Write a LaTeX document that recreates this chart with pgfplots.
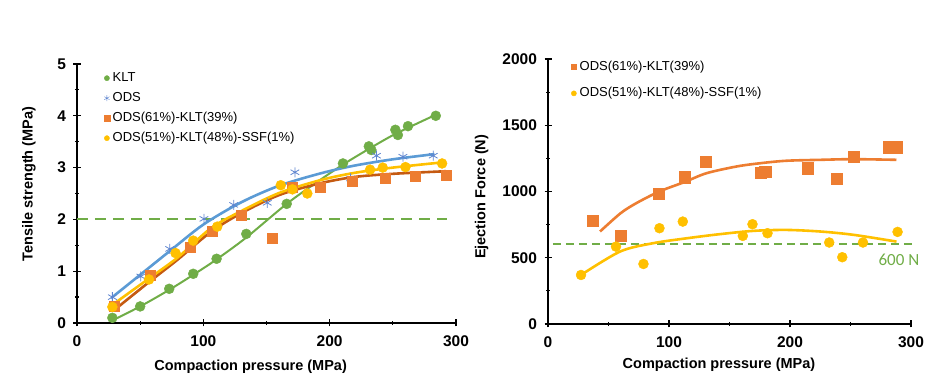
\documentclass[border=0pt]{standalone}
\usepackage{fontspec}
\setmainfont{Liberation Sans}
\newfontfamily\carlito{Carlito}
\usepackage{pgfplots}
\pgfplotsset{compat=1.18}
\definecolor{cgreen}{HTML}{70AD47}
\definecolor{cblue}{HTML}{5B9BD5}
\definecolor{cast}{HTML}{5F86D0}
\definecolor{corange}{HTML}{ED7D31}
\definecolor{cdorange}{HTML}{C55A11}
\definecolor{cyellow}{HTML}{FFC000}
\pgfplotsset{
 myaxis/.style={
  scale only axis, axis x line=bottom, axis y line=left,
  axis line style={-, line width=1.3pt, black},
  xmin=0, xmax=300, xtick={0,100,200,300}, minor x tick num=1,
  tick align=center, major tick length=7pt, minor tick length=4pt,
  every tick/.style={black, line width=1.2pt},
  tick label style={font=\bfseries\fontsize{15.5}{15.5}\selectfont},
  yticklabel style={xshift=-4pt},
  xticklabel style={yshift=-6pt},
  /pgf/number format/assume math mode=true, /pgf/number format/1000 sep={},
  label style={font=\bfseries\fontsize{14.5}{14.5}\selectfont},
  clip=false,
  legend style={draw=none, fill=none, inner sep=0pt, font=\fontsize{13}{13}\selectfont,
    nodes={inner sep=1pt, text height=10pt, text depth=3pt},
    /tikz/every odd column/.append style={column sep=2pt}},
  legend cell align=left,
  legend image code/.code={\draw[mark repeat=2,mark phase=2,##1] plot coordinates {(0cm,0cm) (0.1cm,0cm) (0.2cm,0cm)};},
 }
}
\begin{document}
\begin{tikzpicture}
\path[use as bounding box] (0,0) rectangle (937pt,385pt);
% ---------------- left chart ----------------
\begin{axis}[myaxis, at={(77pt,62pt)}, anchor=south west, width=379pt, height=259pt,
  ymin=0, ymax=5, ytick={0,1,2,3,4,5}, minor y tick num=1,
  xlabel={Compaction pressure (MPa)}, ylabel={Tensile strength (MPa)},
  xlabel style={at={(axis description cs:0.458,-0.170)}, anchor=center},
  ylabel style={at={(axis description cs:-0.127,0.537)}, anchor=center},
  legend style={at={(axis description cs:0.071,0.975)}, anchor=north west, row sep=5pt}]
\addlegendimage{only marks, mark=*, mark size=2.6pt, color=cgreen}
\addlegendentry{KLT}
\addlegendimage{only marks, mark=asterisk, mark size=3pt, color=cast}
\addlegendentry{ODS}
\addlegendimage{only marks, mark=square*, mark size=2.8pt, color=corange}
\addlegendentry{ODS(61\%)-KLT(39\%)}
\addlegendimage{only marks, mark=*, mark size=2.6pt, color=cyellow}
\addlegendentry{ODS(51\%)-KLT(48\%)-SSF(1\%)}
% threshold
\addplot[forget plot, draw=cgreen, line width=1.8pt, dash pattern=on 11pt off 7pt] coordinates {(0,2.005) (293,2.005)};
% markers
\addplot[forget plot, only marks, mark=*, mark size=5pt, color=cgreen] coordinates {
(28,0.10) (50,0.32) (73,0.66) (92,0.95) (110.5,1.24) (134,1.72) (166,2.30)
(210.5,3.08) (231,3.41) (233,3.34) (252,3.73) (254,3.63) (262,3.80) (284,4.00)};
\addplot[forget plot, only marks, mark=asterisk, mark size=5pt, color=cast, line width=0.8pt] coordinates {
(28,0.50) (50.5,0.90) (73.4,1.43) (100.5,2.01) (124,2.28) (150.6,2.32) (172.5,2.91)
(193,2.62) (216.6,2.79) (237,3.23) (258,3.21) (282,3.23)};
\addplot[forget plot, only marks, mark=square*, mark size=5pt, color=corange] coordinates {
(29.5,0.32) (58,0.93) (89.5,1.46) (107,1.77) (129.6,2.09) (154.7,1.63) (170,2.63)
(192.4,2.62) (217.6,2.73) (244,2.80) (267.6,2.83) (292.6,2.85)};
\addplot[forget plot, only marks, mark=*, mark size=5pt, color=cyellow] coordinates {
(28,0.31) (57,0.84) (78,1.35) (92,1.59) (111,1.86) (161.3,2.66) (170.5,2.58)
(182.3,2.50) (232,2.96) (242,3.00) (260,3.01) (289,3.08)};
% trendlines
\addplot[forget plot, cgreen, line width=2pt, smooth] coordinates {
(28,0.05) (50,0.32) (73,0.64) (92,0.93) (110,1.22) (134,1.65) (166,2.30)
(190,2.72) (210,3.05) (231,3.36) (252,3.65) (284,4.02)};
\addplot[forget plot, cblue, line width=2.6pt, smooth] coordinates {
(27,0.48) (50,0.93) (73,1.38) (100,1.90) (130,2.33) (160,2.65) (193,2.89)
(220,3.04) (250,3.16) (283,3.26)};
\addplot[forget plot, cdorange, line width=2.6pt, smooth] coordinates {
(31,0.28) (57,0.79) (80,1.23) (106,1.76) (130,2.12) (160,2.47) (193,2.70)
(220,2.82) (250,2.88) (292,2.93)};
\addplot[forget plot, cyellow, line width=2.6pt, smooth] coordinates {
(28,0.35) (57,0.86) (80,1.27) (106,1.83) (130,2.16) (160,2.51) (193,2.76)
(220,2.90) (250,3.00) (289,3.10)};
\end{axis}
% ---------------- right chart ----------------
\begin{axis}[myaxis, at={(548pt,61pt)}, anchor=south west, width=363pt, height=265pt,
  ymin=0, ymax=2000, ytick={0,500,1000,1500,2000}, minor y tick num=1,
  xlabel={Compaction pressure (MPa)}, ylabel={Ejection Force (N)},
  xlabel style={at={(axis description cs:0.471,-0.155)}, anchor=center},
  ylabel style={at={(axis description cs:-0.183,0.480)}, anchor=center},
  legend style={at={(axis description cs:0.063,1.0)}, anchor=north west, row sep=11.7pt}]
\addlegendimage{only marks, mark=square*, mark size=2.8pt, color=corange}
\addlegendentry{ODS(61\%)-KLT(39\%)}
\addlegendimage{only marks, mark=*, mark size=2.6pt, color=cyellow}
\addlegendentry{ODS(51\%)-KLT(48\%)-SSF(1\%)}
\addplot[forget plot, cgreen, line width=2pt, dash pattern=on 8pt off 5pt] coordinates {(4,600) (302,600)};
\node[text=cgreen, font=\carlito\fontsize{17}{17}\selectfont] at (axis cs:290,483) {600 N};
\addplot[forget plot, only marks, mark=square*, mark size=5.6pt, color=corange] coordinates {
(36.9,781) (60.1,667) (91.8,982) (113,1108) (130.4,1222) (176,1139) (179.5,1151)
(214.5,1176) (238.8,1096) (252.5,1264) (281.5,1335) (288.4,1335)};
\addplot[forget plot, only marks, mark=*, mark size=5pt, color=cyellow] coordinates {
(27.3,370) (56.2,584) (78.9,453) (92.1,723) (111.4,773) (161,665) (169,753)
(181.4,685) (232.4,615) (243.2,504) (260.3,615) (288.9,695)};
\addplot[forget plot, corange, line width=2.6pt, smooth] coordinates {
(43,698) (60,836) (73,912) (92,1000) (113,1072) (131,1138) (156,1189) (176,1214)
(197,1232) (225,1239) (252,1244) (288,1239)};
\addplot[forget plot, cyellow, line width=2.6pt, smooth] coordinates {
(27.3,370) (59.6,547) (87,610) (114.7,647) (142,678) (170,703) (197,710)
(225,698) (252.5,673) (288,622)};
\end{axis}
\end{tikzpicture}
\end{document}
